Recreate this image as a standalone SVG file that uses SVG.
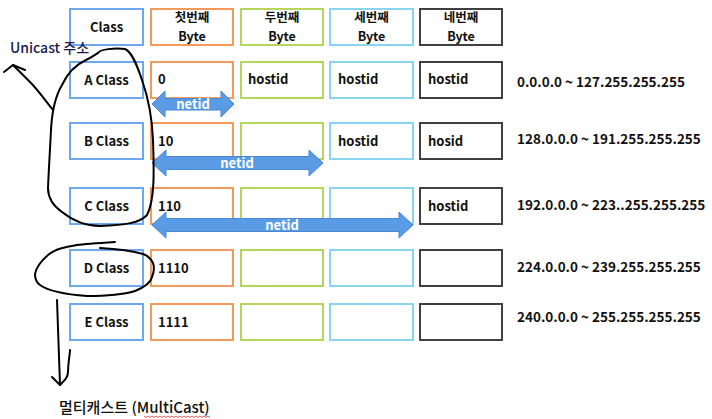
<svg xmlns="http://www.w3.org/2000/svg" width="712" height="419" viewBox="0 0 712 419">
<style>
text{font-family:"Noto Sans CJK KR","Noto Sans",sans-serif;font-size:13px;font-weight:600;fill:#111}
.c{text-anchor:middle}
.h{font-size:12.5px}
.r{font-size:13.5px}
.box{fill:#fff;stroke-width:2}
.b1{stroke:#6FA8EE}.b2{stroke:#F39A5A}.b3{stroke:#B4D65A}.b4{stroke:#8AD4F2}.b5{stroke:#404040}
.arr{fill:#5A9BE6;stroke:#4A87D2;stroke-width:1}
.nt{fill:#fff;font-weight:700;text-anchor:middle}
.ink{fill:none;stroke:#000;stroke-width:2;stroke-linecap:round;stroke-linejoin:round}
</style>
<g id="header">
<rect class="box b1" x="70" y="9" width="73" height="36"/><text class="c" x="106.5" y="32">Class</text>
<rect class="box b2" x="151" y="9" width="82" height="36"/><text class="c h" x="192" y="22">첫번째</text><text class="c h" x="192" y="41">Byte</text>
<rect class="box b3" x="241" y="9" width="82" height="36"/><text class="c h" x="282" y="22">두번째</text><text class="c h" x="282" y="41">Byte</text>
<rect class="box b4" x="330" y="9" width="83" height="36"/><text class="c h" x="371.5" y="22">세번째</text><text class="c h" x="371.5" y="41">Byte</text>
<rect class="box b5" x="420" y="9" width="82" height="36"/><text class="c h" x="461" y="22">네번째</text><text class="c h" x="461" y="41">Byte</text>
</g>
<g id="rowA">
<rect class="box b1" x="70" y="62" width="73" height="36"/><text class="c" x="106.5" y="85">A Class</text>
<rect class="box b2" x="151" y="62" width="82" height="36"/><text x="158" y="84">0</text>
<rect class="box b3" x="241" y="62" width="82" height="36"/><text x="248" y="84">hostid</text>
<rect class="box b4" x="330" y="62" width="83" height="36"/><text x="338" y="84">hostid</text>
<rect class="box b5" x="420" y="62" width="82" height="36"/><text x="428" y="84">hostid</text>
<text class="r" x="517" y="87">0.0.0.0 ~ 127.255.255.255</text>
</g>
<g id="rowB">
<rect class="box b1" x="70" y="123" width="73" height="36"/><text class="c" x="106.5" y="146">B Class</text>
<rect class="box b2" x="151" y="123" width="82" height="36"/><text x="158" y="146">10</text>
<rect class="box b3" x="241" y="123" width="82" height="36"/>
<rect class="box b4" x="330" y="123" width="83" height="36"/><text x="338" y="146">hostid</text>
<rect class="box b5" x="420" y="123" width="82" height="36"/><text x="428" y="146">hosid</text>
<text class="r" x="517" y="144">128.0.0.0 ~ 191.255.255.255</text>
</g>
<g id="rowC">
<rect class="box b1" x="70" y="188" width="73" height="36"/><text class="c" x="106.5" y="211">C Class</text>
<rect class="box b2" x="151" y="188" width="82" height="36"/><text x="158" y="211">110</text>
<rect class="box b3" x="241" y="188" width="82" height="36"/>
<rect class="box b4" x="330" y="188" width="83" height="36"/>
<rect class="box b5" x="420" y="188" width="82" height="36"/><text x="428" y="211">hostid</text>
<text class="r" x="517" y="210">192.0.0.0 ~ 223..255.255.255</text>
</g>
<g id="rowD">
<rect class="box b1" x="70" y="250" width="73" height="36"/><text class="c" x="106.5" y="273">D Class</text>
<rect class="box b2" x="151" y="250" width="82" height="36"/><text x="158" y="273">1110</text>
<rect class="box b3" x="241" y="250" width="82" height="36"/>
<rect class="box b4" x="330" y="250" width="83" height="36"/>
<rect class="box b5" x="420" y="250" width="82" height="36"/>
<text class="r" x="517" y="272">224.0.0.0 ~ 239.255.255.255</text>
</g>
<g id="rowE">
<rect class="box b1" x="70" y="304" width="73" height="36"/><text class="c" x="106.5" y="327">E Class</text>
<rect class="box b2" x="151" y="304" width="82" height="36"/><text x="158" y="327">1111</text>
<rect class="box b3" x="241" y="304" width="82" height="36"/>
<rect class="box b4" x="330" y="304" width="83" height="36"/>
<rect class="box b5" x="420" y="304" width="82" height="36"/>
<text class="r" x="517" y="322">240.0.0.0 ~ 255.255.255.255</text>
</g>
<g id="connectors">
<path class="arr" d="M152,104 L165,91 L165,98.5 L221,98.5 L221,91 L234,104 L221,117 L221,110 L165,110 L165,117 Z"/>
<text class="nt" x="193" y="109">netid</text>
<path class="arr" d="M152,163 L166,150 L166,156.5 L309,156.5 L309,150 L323,163 L309,176 L309,169.5 L166,169.5 L166,176 Z"/>
<text class="nt" x="237" y="168">netid</text>
<path class="arr" d="M152,225 L166,212 L166,218.5 L399,218.5 L399,212 L413,225 L399,238 L399,231.5 L166,231.5 L166,238 Z"/>
<text class="nt" x="282" y="230">netid</text>
</g>
<g id="ink">
<path class="ink" d="M98,53 C100,49 115,48 125,49 C132,52 137,65 142,80 C148,97 152,115 153,140 C154,170 155,200 147,215 C140,223 125,225 100,226 C85,226 72,220 62,212 C52,205 48,197 48,188 C49,165 50,150 51,130 C52,110 56,95 62,85 C68,72 75,65 86,60 C92,57 96,54 98,53"/>
<path class="ink" d="M53,110 C45,100 38,90 30,82 C24,76 18,70 13,65"/>
<path class="ink" d="M4,72 L13,65 L25,70"/>
<path class="ink" d="M115,242 C100,243 85,244 77,245 C65,247 55,249 48,255 C40,262 36,268 35,274 C35,280 37,283 40,285 C47,290 60,294 87,296 C110,296 125,294 135,291 C145,287 151,282 152,277 C155,270 154,266 153,263 C150,257 146,255 143,254 C130,250 120,249 100,248"/>
<path class="ink" d="M57,300 C58,330 59,360 60,385"/>
<path class="ink" d="M52,377 L60,385 C65,380 68,377 68,372 C68,362 70,355 70,350"/>
</g>
<text x="10" y="53" style="font-size:14px;font-weight:500;fill:#1a1a50">Unicast 주소</text>
<text x="59" y="413" style="font-size:15px;font-weight:500">멀티캐스트 (MultiCast)</text>
<path d="M144,416 l2,1.5 l2,-1.5 l2,1.5 l2,-1.5 l2,1.5 l2,-1.5 l2,1.5 l2,-1.5 l2,1.5 l2,-1.5 l2,1.5 l2,-1.5 l2,1.5 l2,-1.5 l2,1.5 l2,-1.5 l2,1.5 l2,-1.5 l2,1.5 l2,-1.5 l2,1.5 l2,-1.5 l2,1.5 l2,-1.5 l2,1.5 l2,-1.5 l2,1.5 l2,-1.5 l2,1.5 l2,-1.5 l2,1.5 l2,-1.5 l2,1.5" fill="none" stroke="#E03030" stroke-width="0.8"/>
</svg>
